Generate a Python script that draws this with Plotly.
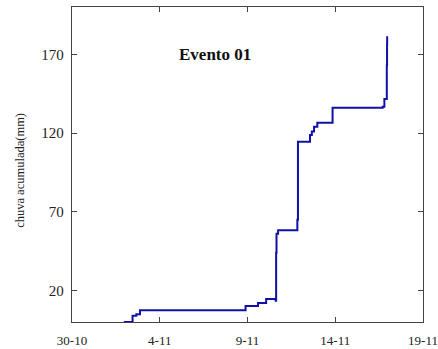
import plotly.graph_objects as go

# cumulative rainfall (mm) — step series
times = [
    "2013-11-01 22:50", "2013-11-02 10:50", "2013-11-02 16:00", "2013-11-02 21:00",
    "2013-11-08 21:20", "2013-11-09 14:20", "2013-11-10 01:30", "2013-11-10 14:30",
    "2013-11-10 15:10", "2013-11-10 15:40", "2013-11-10 17:50", "2013-11-11 20:10",
    "2013-11-11 21:00", "2013-11-12 13:30", "2013-11-12 16:00", "2013-11-12 19:00",
    "2013-11-12 23:30", "2013-11-13 20:20", "2013-11-16 16:50", "2013-11-16 19:10",
    "2013-11-16 22:30", "2013-11-16 22:50", "2013-11-16 23:00",
]
rain = [
    0, 4, 5, 7.5,
    10.2, 12, 14.6, 13.5,
    44, 56, 58.3, 65,
    114.5, 118.7, 121, 124,
    126.5, 136, 136.7, 141.6,
    163, 176, 181.5,
]

x_tickvals = ["2013-10-30", "2013-11-04", "2013-11-09", "2013-11-14", "2013-11-19"]
x_ticktext = ["30-10", "4-11", "9-11", "14-11", "19-11"]
y_tickvals = [20, 70, 120, 170]

title_text = "<b>Evento 01</b>"
y_label = "chuva acumulada(mm)"

serif = "Liberation Serif"

fig = go.Figure()
fig.add_trace(go.Scatter(
    x=times, y=rain, mode="lines", line=dict(color="#1010a8", width=2, shape="hv"),
    showlegend=False, hoverinfo="skip",
))

fig.add_annotation(
    x="2013-11-07 03:00", y=170, xref="x", yref="y", text=title_text,
    showarrow=False, font=dict(family=serif, size=17, color="#111"),
)
fig.add_annotation(
    x=-0.148, y=0.48, xref="paper", yref="paper", text=y_label, textangle=-90,
    xanchor="center", yanchor="middle",
    showarrow=False, font=dict(family=serif, size=12.5, color="#222"),
)

axis_common = dict(
    showline=True, linecolor="#444", linewidth=1.3, mirror="ticks",
    ticks="inside", ticklen=5, tickcolor="#444", tickwidth=1,
    showgrid=False, zeroline=False, ticklabeloverflow="allow", automargin=False,
    tickfont=dict(family=serif, size=13, color="#222"),
)

fig.update_layout(
    template="none",
    width=438, height=349,
    margin=dict(l=72, r=15, t=7, b=27),
    paper_bgcolor="white", plot_bgcolor="white",
    font=dict(family=serif),
    xaxis=dict(
        type="date", range=["2013-10-30", "2013-11-19"],
        tickvals=x_tickvals, ticktext=x_ticktext, ticklabelstandoff=6,
        **axis_common,
    ),
    yaxis=dict(
        range=[0, 200], tickvals=y_tickvals, ticklabelstandoff=4,
        **{**axis_common, "tickfont": dict(family=serif, size=15, color="#222")},
    ),
)

fig.write_html("out.html")
